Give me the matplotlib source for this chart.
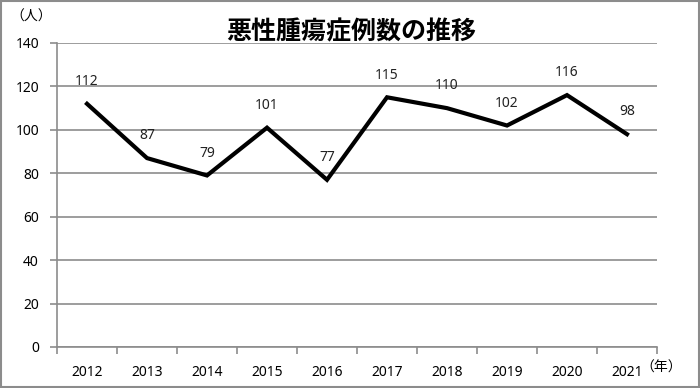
import matplotlib
matplotlib.use('Agg')
import matplotlib.pyplot as plt
import numpy as np

plt.rcParams['font.family'] = ['Noto Sans', 'Noto Sans CJK JP', 'DejaVu Sans']

# data
years = ['2012', '2013', '2014', '2015', '2016', '2017', '2018', '2019', '2020', '2021']
cases = [112, 87, 79, 101, 77, 115, 110, 102, 116, 98]

fig = plt.figure(figsize=(7, 3.88), dpi=100)
ax = fig.add_axes([57/700, 1 - 347/388, 600/700, 304/388])

x = np.arange(len(years))
ax.plot(x, cases, color='black', linewidth=3, solid_joinstyle='miter', zorder=3)

# data labels above points
for xi, v in zip(x, cases):
    ax.annotate(str(v), (xi, v), xytext=(0, 16), textcoords='offset points',
                ha='center', va='center', fontsize=10, color='#222222')

ax.set_xlim(-0.5, len(years) - 0.5)
ax.set_ylim(0, 140)
ax.set_yticks(np.arange(0, 141, 20))
ax.yaxis.grid(True, color='#8c8c8c', linewidth=1.2)
ax.set_axisbelow(True)

# category ticks between categories, labels centered
ax.set_xticks(np.arange(-0.5, len(years)), minor=False)
ax.set_xticklabels([])
ax.set_xticks(x, minor=True)
ax.set_xticklabels(years, minor=True)
ax.tick_params(axis='x', which='major', length=5, color='#8c8c8c', width=1.2)
ax.tick_params(axis='x', which='minor', length=0, pad=13, labelsize=10)
ax.tick_params(axis='y', length=5, color='#8c8c8c', width=1.2, labelsize=10, pad=8)

for s in ['top', 'right']:
    ax.spines[s].set_visible(False)
for s in ['left', 'bottom']:
    ax.spines[s].set_color('#8c8c8c')
    ax.spines[s].set_linewidth(1.2)

fig.text(351/700, 1 - 32/388, '悪性腫瘍症例数の推移', ha='center', va='center',
         fontsize=18, fontweight='bold', family=['Noto Sans CJK JP'])
fig.text(31/700, 1 - 17/388, '（人）', ha='center', va='center', fontsize=10,
         family=['Noto Sans CJK JP'])
fig.text(661/700, 1 - 368/388, '（年）', ha='center', va='center', fontsize=10,
         family=['Noto Sans CJK JP'])

# outer border
fig.patches.append(plt.Rectangle((0.002, 0.003), 0.996, 0.994, transform=fig.transFigure,
                                 fill=False, edgecolor='#8c8c8c', linewidth=1.5))

fig.savefig('out.png', dpi=100)
